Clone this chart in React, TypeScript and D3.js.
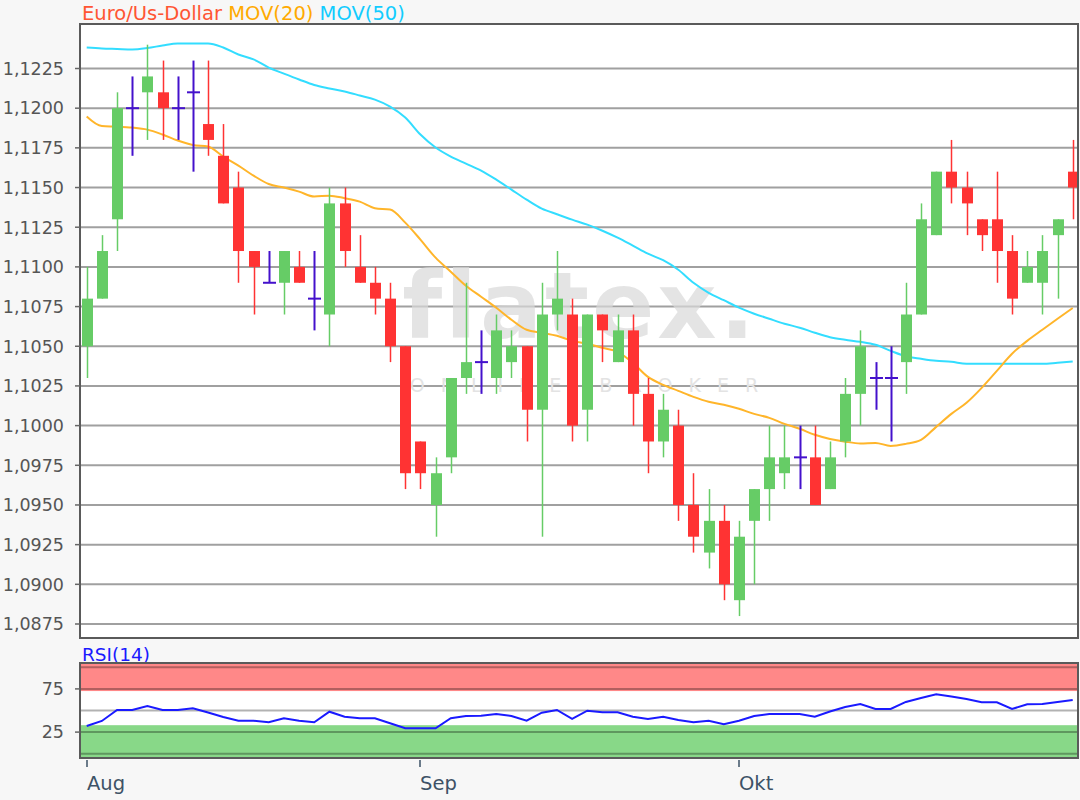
import React from "react";
import * as d3 from "d3";

// ---------- data ----------
const opens = [
  1.105, 1.108, 1.113, 1.12, 1.121, 1.121, 1.12, 1.121, 1.119, 1.117,
  1.115, 1.111, 1.109, 1.109, 1.11, 1.108, 1.107, 1.114, 1.11, 1.109,
  1.108, 1.105, 1.099, 1.095, 1.098, 1.103, 1.104, 1.103, 1.104, 1.105,
  1.101, 1.107, 1.107, 1.101, 1.107, 1.104, 1.106, 1.102, 1.099, 1.1,
  1.095, 1.092, 1.094, 1.089, 1.094, 1.096, 1.097, 1.098, 1.098, 1.096,
  1.099, 1.102, 1.103, 1.103, 1.104, 1.107, 1.112, 1.116, 1.115, 1.113,
  1.113, 1.111, 1.109, 1.109, 1.112, 1.116,
];
const highs = [
  1.11, 1.112, 1.121, 1.122, 1.124, 1.123, 1.122, 1.123, 1.123, 1.119,
  1.116, 1.111, 1.111, 1.111, 1.111, 1.111, 1.115, 1.115, 1.112, 1.11,
  1.109, 1.105, 1.099, 1.098, 1.103, 1.109, 1.106, 1.107, 1.106, 1.105,
  1.109, 1.111, 1.108, 1.107, 1.107, 1.107, 1.107, 1.103, 1.102, 1.101,
  1.097, 1.096, 1.095, 1.094, 1.096, 1.1, 1.1, 1.1, 1.1, 1.099,
  1.103, 1.106, 1.104, 1.105, 1.109, 1.114, 1.116, 1.118, 1.116, 1.113,
  1.116, 1.112, 1.111, 1.112, 1.113, 1.118,
];
const lows = [
  1.103, 1.108, 1.111, 1.117, 1.118, 1.118, 1.118, 1.116, 1.117, 1.114,
  1.109, 1.107, 1.109, 1.107, 1.109, 1.106, 1.105, 1.11, 1.109, 1.107,
  1.104, 1.096, 1.096, 1.093, 1.097, 1.102, 1.102, 1.102, 1.103, 1.099,
  1.093, 1.106, 1.099, 1.099, 1.104, 1.104, 1.1, 1.097, 1.098, 1.094,
  1.092, 1.091, 1.089, 1.088, 1.09, 1.094, 1.096, 1.096, 1.095, 1.096,
  1.098, 1.1, 1.101, 1.099, 1.102, 1.107, 1.112, 1.114, 1.112, 1.111,
  1.109, 1.107, 1.109, 1.107, 1.108, 1.113,
];
const closes = [
  1.108, 1.111, 1.12, 1.12, 1.122, 1.12, 1.12, 1.121, 1.118, 1.114,
  1.111, 1.11, 1.109, 1.111, 1.109, 1.108, 1.114, 1.111, 1.109, 1.108,
  1.105, 1.097, 1.097, 1.097, 1.103, 1.104, 1.104, 1.106, 1.105, 1.101,
  1.107, 1.108, 1.1, 1.107, 1.106, 1.106, 1.102, 1.099, 1.101, 1.095,
  1.093, 1.094, 1.09, 1.093, 1.096, 1.098, 1.098, 1.098, 1.095, 1.098,
  1.102, 1.105, 1.103, 1.103, 1.107, 1.113, 1.116, 1.115, 1.114, 1.112,
  1.111, 1.108, 1.11, 1.111, 1.113, 1.115,
];
const mov20 = [
  1.11947, 1.11887, 1.11884, 1.11878, 1.11865, 1.11834, 1.11796, 1.11768, 1.11758, 1.11695,
  1.11638, 1.11575, 1.11522, 1.115, 1.11474, 1.11443, 1.11449, 1.11433, 1.11411, 1.1137,
  1.11361, 1.11279, 1.11172, 1.11058, 1.1097, 1.10881, 1.10812, 1.10743, 1.10667, 1.10604,
  1.10585, 1.10566, 1.10534, 1.10516, 1.1049, 1.10465, 1.10396, 1.10307, 1.10257, 1.10219,
  1.10181, 1.1015, 1.10131, 1.10106, 1.10074, 1.10049, 1.10011, 1.0998, 1.09942, 1.09916,
  1.09899, 1.09888, 1.09891, 1.09872, 1.09885, 1.0991, 1.09992, 1.10074, 1.10144, 1.10238,
  1.10345, 1.10453, 1.10534, 1.10604, 1.10673, 1.10741,
];
const mov50 = [
  1.12382, 1.12376, 1.12373, 1.1237, 1.12379, 1.12395, 1.12408, 1.12408, 1.12408, 1.12382,
  1.12338, 1.12307, 1.12256, 1.12218, 1.12181, 1.12146, 1.12124, 1.12105, 1.1208, 1.12054,
  1.1201, 1.11941, 1.11834, 1.11752, 1.11695, 1.11651, 1.11607, 1.1155, 1.11487, 1.11424,
  1.11367, 1.11332, 1.11298, 1.11266, 1.11228, 1.11184, 1.11134, 1.11083, 1.11042, 1.10982,
  1.109, 1.10837, 1.1079, 1.10743, 1.10705, 1.10673, 1.10642, 1.10617, 1.10585, 1.10557,
  1.10541, 1.10528, 1.10509, 1.10471, 1.10437, 1.10421, 1.10408, 1.10402, 1.10389, 1.10389,
  1.10389, 1.10389, 1.10389, 1.10389, 1.10396, 1.10404,
];
const rsi14 = [
  32.1, 37.9, 50.6, 50.6, 55.2, 50.6, 50.6, 52.6, 47.7, 42.5,
  38.2, 38.2, 36.4, 41.0, 38.2, 36.4, 48.6, 42.8, 41.0, 41.0,
  35.2, 29.4, 29.4, 29.4, 41.0, 43.7, 44.0, 46.0, 43.7, 38.2,
  47.5, 50.6, 40.2, 49.8, 47.9, 47.9, 42.8, 40.2, 42.8, 39.0,
  36.4, 38.2, 34.0, 38.2, 43.7, 46.0, 46.0, 46.0, 42.8, 48.9,
  54.1, 57.5, 51.8, 51.8, 59.9, 64.5, 68.8, 66.2, 63.3, 59.5,
  59.5, 51.8, 57.2, 57.5, 59.9, 62.2,
];
const priceTicks = [
  1.0875, 1.09, 1.0925, 1.095, 1.0975, 1.1, 1.1025, 1.105,
  1.1075, 1.11, 1.1125, 1.115, 1.1175, 1.12, 1.1225,
];
const rsiTickLabels = [25, 75];
const rsiGridLevels = [0, 25, 50, 75, 100];
const monthLabels = ["Aug", "Sep", "Okt"];
const monthStartIndex = [0, 22, 43];
const rsiOverbought = 72.5;
const rsiOversold = 33;

// ---------- layout ----------
const W = 1080;
const H = 800;
const FONT = "'DejaVu Sans', Verdana, sans-serif";
const main = { x: 80, y: 24, w: 998, h: 614 };
const rsiP = { x: 80, y: 663, w: 998, h: 95 };

const GREEN = "#66cc66";
const RED = "#ff3333";
const DOJI = "#4411cc";

export default function App() {
  const n = closes.length;
  const x = d3.scaleLinear().domain([0, n - 1]).range([86.7, 1072.7]);
  const y = d3.scaleLinear().domain([1.0875, 1.1225]).range([624, 68.5]);
  const yr = d3.scaleLinear().domain([0, 100]).range([753.7, 667.3]);
  const fmt = (v: number) => d3.format(".4f")(v).replace(".", ",");

  const maLine = d3
    .line<number>()
    .x((_, i) => x(i))
    .y((d) => y(d))
    .curve(d3.curveMonotoneX);
  const rsiLine = d3
    .line<number>()
    .x((_, i) => x(i))
    .y((d) => yr(d));

  const bodyW = 11;
  const dojiW = 13;

  return (
    <svg
      width={W}
      height={H}
      style={{ position: "absolute", left: 0, top: 0, background: "#f7f7f7" }}
      fontFamily={FONT}
    >
      <defs>
        <clipPath id="clipMain">
          <rect x={main.x} y={main.y} width={main.w} height={main.h} />
        </clipPath>
        <clipPath id="clipRsi">
          <rect x={rsiP.x} y={rsiP.y} width={rsiP.w} height={rsiP.h} />
        </clipPath>
      </defs>
      <rect x={0} y={0} width={W} height={H} fill="#f7f7f7" />

      {/* title */}
      <text x={82} y={20} fontSize={19.5}>
        <tspan fill="#ff5533">Euro/Us-Dollar</tspan>
        <tspan fill="#ffaa00"> MOV(20)</tspan>
        <tspan fill="#11ccff"> MOV(50)</tspan>
      </text>

      {/* main panel */}
      <rect x={main.x} y={main.y} width={main.w} height={main.h} fill="#ffffff" />
      <g clipPath="url(#clipMain)">
        {priceTicks.map((t) => (
          <line
            key={t}
            x1={main.x}
            x2={main.x + main.w}
            y1={y(t)}
            y2={y(t)}
            stroke="#a0a0a0"
            strokeWidth={2}
          />
        ))}
        {/* watermark */}
        <text
          x={580}
          y={338}
          fontSize={92}
          fontWeight={700}
          textAnchor="middle"
          fill="#d9d9d9"
          fillOpacity={0.7}
          letterSpacing={3}
        >
          flatex.
        </text>
        <text
          x={592}
          y={392}
          fontSize={19}
          textAnchor="middle"
          fill="#e3e3e3"
          letterSpacing={16}
        >
          ONLINE BROKER
        </text>
        {/* moving averages */}
        <path d={maLine(mov50) || ""} fill="none" stroke="#33ddff" strokeWidth={2} />
        <path d={maLine(mov20) || ""} fill="none" stroke="#ffb52a" strokeWidth={2} />
        {/* candles */}
        {closes.map((c, i) => {
          const o = opens[i];
          const cx = Math.round(x(i)) + 0.5;
          if (o === c) {
            return (
              <g key={i} stroke={DOJI} strokeWidth={2}>
                <line x1={cx} x2={cx} y1={y(highs[i])} y2={y(lows[i])} />
                <line x1={cx - dojiW / 2} x2={cx + dojiW / 2} y1={y(c)} y2={y(c)} />
              </g>
            );
          }
          const col = c > o ? GREEN : RED;
          const top = y(Math.max(o, c));
          const bot = y(Math.min(o, c));
          return (
            <g key={i}>
              <line
                x1={cx}
                x2={cx}
                y1={y(highs[i])}
                y2={y(lows[i])}
                stroke={col}
                strokeWidth={1.5}
              />
              <rect x={cx - bodyW / 2} y={top} width={bodyW} height={Math.max(1, bot - top)} fill={col} />
            </g>
          );
        })}
      </g>
      <rect
        x={main.x}
        y={main.y}
        width={main.w}
        height={main.h}
        fill="none"
        stroke="#5a5a5a"
        strokeWidth={2}
      />
      {priceTicks.map((t) => (
        <g key={t}>
          <line x1={75} x2={main.x} y1={y(t)} y2={y(t)} stroke="#666" strokeWidth={1.5} />
          <text x={64} y={y(t) + 6.3} fontSize={17.5} textAnchor="end" fill="#555">
            {fmt(t)}
          </text>
        </g>
      ))}

      {/* RSI panel */}
      <text x={82} y={661} fontSize={18.5} fill="#1a1aff">
        RSI(14)
      </text>
      <rect x={rsiP.x} y={rsiP.y} width={rsiP.w} height={rsiP.h} fill="#ffffff" />
      <g clipPath="url(#clipRsi)">
        <rect
          x={rsiP.x}
          y={rsiP.y}
          width={rsiP.w}
          height={yr(rsiOverbought) - rsiP.y}
          fill="#ff8888"
        />
        <rect
          x={rsiP.x}
          y={yr(rsiOversold)}
          width={rsiP.w}
          height={rsiP.y + rsiP.h - yr(rsiOversold)}
          fill="#88d888"
        />
        {rsiGridLevels.map((t) => (
          <line
            key={t}
            x1={rsiP.x}
            x2={rsiP.x + rsiP.w}
            y1={yr(t)}
            y2={yr(t)}
            stroke="#000"
            strokeOpacity={0.3}
            strokeWidth={2}
          />
        ))}
        <path d={rsiLine(rsi14) || ""} fill="none" stroke="#1a1aff" strokeWidth={2} />
      </g>
      <rect
        x={rsiP.x}
        y={rsiP.y}
        width={rsiP.w}
        height={rsiP.h}
        fill="none"
        stroke="#5a5a5a"
        strokeWidth={2}
      />
      {rsiTickLabels.map((t) => (
        <g key={t}>
          <line x1={75} x2={rsiP.x} y1={yr(t)} y2={yr(t)} stroke="#666" strokeWidth={1.5} />
          <text x={64} y={yr(t) + 6.3} fontSize={17.5} textAnchor="end" fill="#555">
            {t}
          </text>
        </g>
      ))}

      {/* x axis months */}
      {monthLabels.map((m, k) => {
        const mx = Math.round(x(monthStartIndex[k]));
        return (
          <g key={m}>
            <line x1={mx} x2={mx} y1={760} y2={767} stroke="#3d5266" strokeWidth={1.5} />
            <text x={mx} y={790} fontSize={19.5} fill="#3d5266">
              {m}
            </text>
          </g>
        );
      })}
    </svg>
  );
}
